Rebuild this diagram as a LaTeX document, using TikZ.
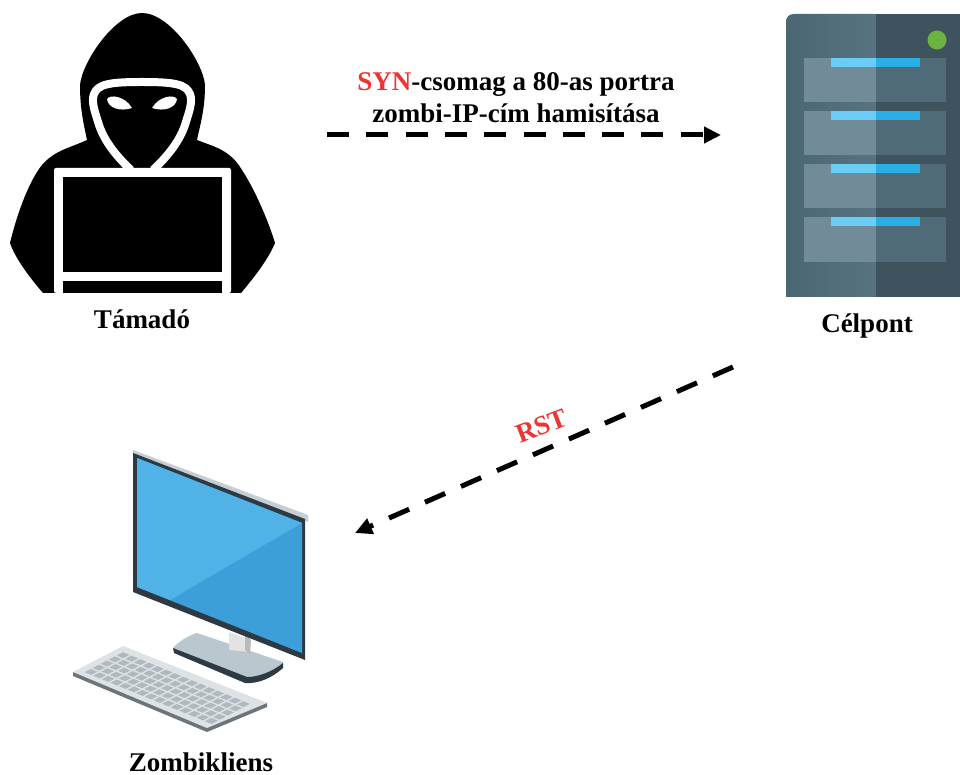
\documentclass[tikz,border=0pt]{standalone}
\usepackage{fontspec}
\setmainfont{Liberation Serif}
\usetikzlibrary{arrows.meta}
\definecolor{synred}{HTML}{EE3333}
\definecolor{srvL}{HTML}{4F6C79}
\definecolor{srvR}{HTML}{3F535E}
\definecolor{drwL}{HTML}{718B99}
\definecolor{drwR}{HTML}{4F6B77}
\definecolor{barL}{HTML}{6BCDF5}
\definecolor{barR}{HTML}{29AEE6}
\definecolor{led}{HTML}{6DB33F}
\definecolor{scrA}{HTML}{50B2E7}
\definecolor{scrB}{HTML}{3C9FDA}
\definecolor{bezel}{HTML}{2D3A44}
\definecolor{kbd}{HTML}{DDE2E5}
\definecolor{keycol}{HTML}{B0B9BE}
\definecolor{standc}{HTML}{BAC7CE}
\tikzset{
  lbl/.style={font=\bfseries\fontsize{27}{32}\selectfont,inner sep=0pt,align=center,text=black},
  flow/.style={line width=5pt,dash pattern=on 22pt off 17.3pt,-{Triangle[length=17pt,width=16pt]}},
}
\begin{document}
\begin{tikzpicture}[x=1pt,y=-1pt]
\useasboundingbox (0,0) rectangle (960,775);
\fill[white] (0,0) rectangle (960,775);
% attacker
\fill[black] (43,293) .. controls (30,278) and (15,258) .. (10,243)
  .. controls (18,210) and (30,180) .. (42,165)
  .. controls (55,150) and (70,148) .. (87,140)
  .. controls (84,125) and (80,110) .. (80,85)
  .. controls (82,62) and (115,13) .. (142,13)
  .. controls (170,13) and (203,62) .. (205,85)
  .. controls (205,110) and (200,125) .. (197,140)
  .. controls (215,147) and (230,150) .. (242,170)
  .. controls (255,190) and (268,220) .. (275,243)
  .. controls (268,260) and (252,280) .. (241,293) -- cycle;
\draw[white,line width=8pt,line join=round] (131,170) .. controls (115,155) and (104,140) .. (99,125)
  .. controls (95,112) and (91,102) .. (94,94)
  .. controls (98,84) and (110,82) .. (142,82)
  .. controls (174,82) and (186,84) .. (190,94)
  .. controls (193,102) and (189,112) .. (185,125)
  .. controls (180,140) and (169,155) .. (153,170);
\fill[black] (142,166) -- (125,156) -- (142,148) -- (159,156) -- cycle;
\fill[white,rounded corners=2pt] (54,168) -- (231,168) -- (231,293) -- (54,293) -- cycle;
\fill[black] (63,177) rectangle (222,272);
\fill[black] (63,281) rectangle (222,293);
\fill[white] (107,99) .. controls (110,94) and (125,96) .. (132,108) .. controls (120,112) and (108,108) .. (107,99) -- cycle;
\fill[white] (177,99) .. controls (174,94) and (159,96) .. (152,108) .. controls (164,112) and (176,108) .. (177,99) -- cycle;
% server
\path[left color=srvL!95!black,right color=srvL!95!white] (876,297) -- (786,297) -- (786,22) .. controls (786,17) and (789,14) .. (794,14) -- (876,14) -- cycle;
\fill[srvR] (876,14) rectangle (960,297);
\foreach \y in {58,111,164,217.5}{
  \fill[drwL] (804,\y) rectangle (876,\y+44.5);
  \fill[drwR] (876,\y) rectangle (946,\y+44.5);
  \fill[barL] (831,\y) rectangle (876,\y+9);
  \fill[barR] (876,\y) rectangle (920,\y+9);
}
\fill[led] (937,40) circle (9.5);
% client
\fill[standc] (173,648) .. controls (180,640) and (190,635) .. (197,633) -- (283,662) -- (283,668) .. controls (270,675) and (258,680) .. (247,679) -- cycle;
\fill[bezel] (173,648) -- (174,653) -- (245,683) .. controls (258,684) and (272,678) .. (283,668) -- (283,663) .. controls (272,672) and (258,677) .. (247,677) -- cycle;
\fill[gray!22] (229,632) -- (251,640) -- (249,652) -- (229,650) -- cycle;
\fill[gray!55] (245,634) -- (251,640) -- (250,654) -- (245,650) -- cycle;
\fill[standc!85!white] (133,450) -- (308,515) -- (308,522) -- (133,456) -- cycle;
\fill[bezel] (133,453) -- (305,519) -- (305,660) -- (133,592) -- cycle;
\fill[scrB] (137,458) -- (302,523) -- (302,653) -- (137,587) -- cycle;
\fill[scrA] (137,458) -- (302,523) -- (170,600) -- (137,587) -- cycle;
% keyboard
\fill[bezel!70!white] (73,672) -- (73,676) -- (207,732) -- (267,707) -- (267,703) -- cycle;
\fill[kbd] (73,672) -- (123,646) -- (267,703) -- (207,728) -- cycle;
\foreach \i in {0,...,14}{\foreach \j in {0,...,4}{
  \pgfmathsetmacro{\ax}{84.7+\i*8.6+\j*8}
  \pgfmathsetmacro{\ay}{672.2+\i*3.5-\j*4.2}
  \fill[keycol] (\ax,\ay) -- (\ax+6.5,\ay+2.7) -- (\ax+12.7,\ay-.5) -- (\ax+6.2,\ay-3.2) -- cycle;
}}
% labels
\node[lbl,anchor=base] (tamado) at (142,328) {Támadó};
\node[lbl,anchor=base] (celpont) at (867,332) {Célpont};
\node[lbl,anchor=base] (zombi) at (201,771.5) {Zombikliens};
\node[lbl] (syn) at (516,98) {\textcolor{synred}{SYN}-csomag a 80-as portra\\zombi-IP-cím hamisítása};
% connectors
\coordinate (synfrom) at (327,135);
\coordinate (synto) at (721,135);
\coordinate (rstfrom) at (733,367);
\coordinate (rstto) at (355,533);
\draw[flow] (synfrom) -- (synto);
\draw[flow] (rstfrom) -- (rstto);
\node[lbl,text=synred,rotate=21] (rst) at (542,426) {RST};
\end{tikzpicture}
\end{document}
